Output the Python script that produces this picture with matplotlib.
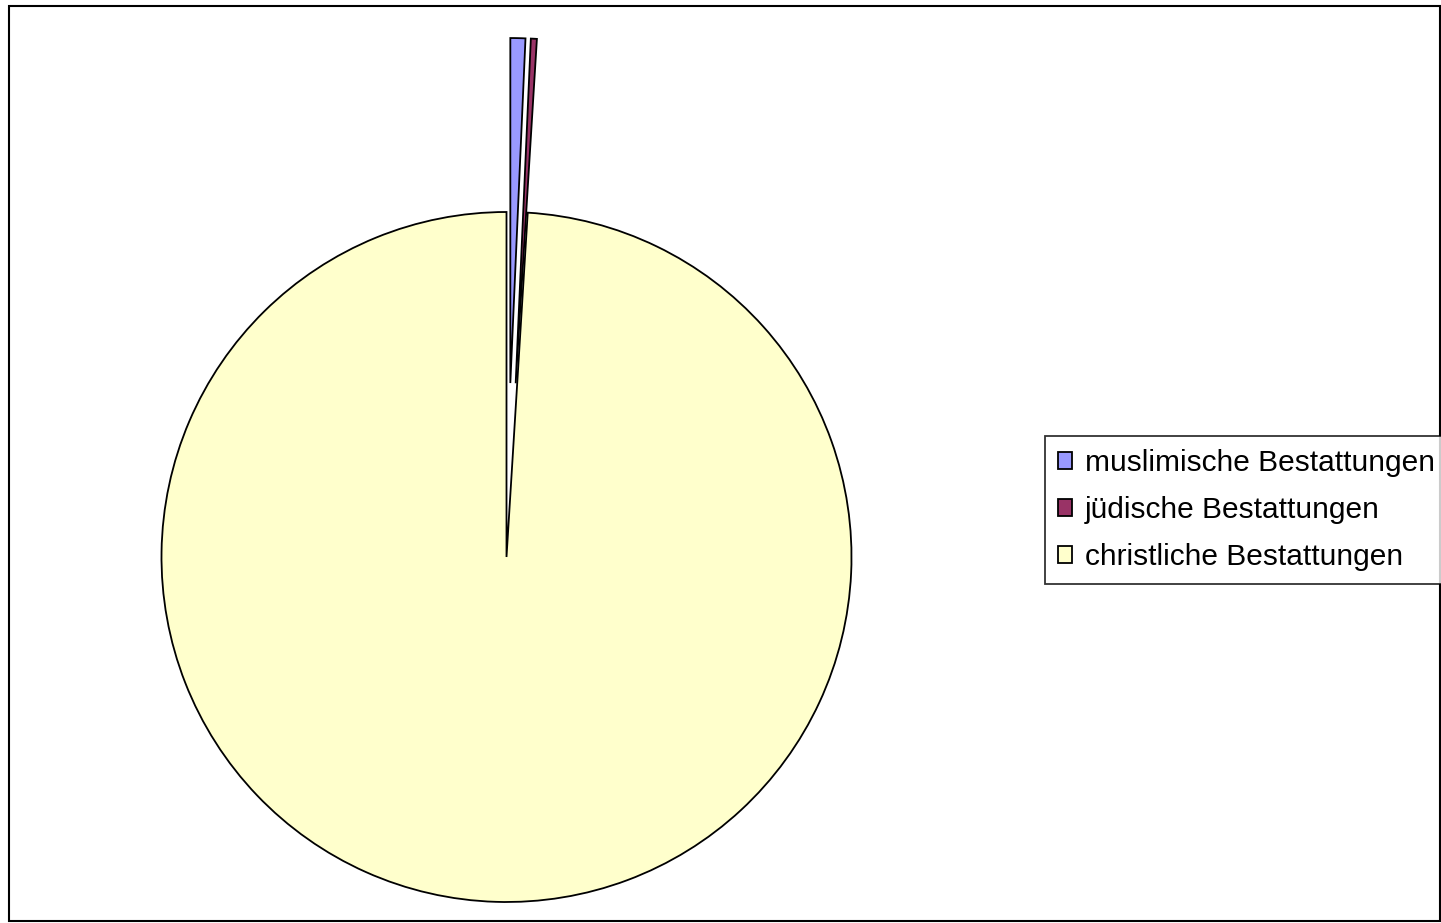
import matplotlib
matplotlib.use("Agg")
import matplotlib.pyplot as plt
from matplotlib.patches import Rectangle

categories = ["muslimische Bestattungen", "jüdische Bestattungen", "christliche Bestattungen"]
values = [0.70, 0.28, 99.02]
colors = ["#9999FF", "#993366", "#FFFFCC"]

W, H = 1441, 923
fig = plt.figure(figsize=(W / 100, H / 100), dpi=100)
ax = fig.add_axes([0, 0, 1, 1])

# chart border
ax.add_patch(Rectangle((9, 2), W - 9 - 1.5, H - 6 - 2, fill=False, edgecolor="black", linewidth=1.5))

wedges, _ = ax.pie(values, colors=colors, startangle=90, counterclock=False,
                   center=(506.5, H - 557), radius=345, explode=[174, 174, 0],
                   wedgeprops=dict(edgecolor="black", linewidth=1.3), frame=True)
ax.set_xlim(0, W)
ax.set_ylim(0, H)
ax.set_aspect("equal")
ax.axis("off")

leg = ax.legend(wedges, categories, loc="upper left",
                bbox_to_anchor=(1045 / W, 1 - 436 / H),
                prop=dict(family="Liberation Sans", size=21.5),
                frameon=True, fancybox=False, edgecolor="black",
                handlelength=0.48, handleheight=0.48, handletextpad=0.42,
                labelspacing=0.64, borderpad=0.43, borderaxespad=0)
leg.get_frame().set_linewidth(1.3)

fig.savefig("out.png", dpi=100)
